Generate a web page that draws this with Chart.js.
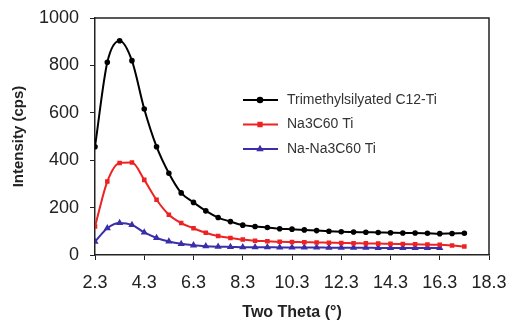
<!DOCTYPE html>
<html>
<head>
<meta charset="utf-8">
<script src="https://cdn.jsdelivr.net/npm/chart.js@4/dist/chart.umd.min.js"></script>
<style>
  html, body { margin: 0; padding: 0; background: #fff; }
  #wrap { width: 509px; height: 320px; }
</style>
</head>
<body>
<div id="wrap"><canvas id="myChart" width="509" height="320"></canvas></div>
<script>
const twoTheta = [2.3, 2.8, 3.3, 3.8, 4.3, 4.8, 5.3, 5.8, 6.3, 6.8, 7.3, 7.8, 8.3, 8.8, 9.3, 9.8,
  10.3, 10.8, 11.3, 11.8, 12.3, 12.8, 13.3, 13.8, 14.3, 14.8, 15.3, 15.8, 16.3, 16.8, 17.3]
const trimethyl = [457, 813, 904, 820, 616, 457, 345, 262, 222, 186, 158, 141, 126, 120, 116, 111,
  109, 106, 103, 100, 98, 97, 96, 95, 94, 93, 93, 92, 90, 91, 92]
const na3c60 = [120, 310, 388, 390, 317, 233, 170, 135, 113, 94, 80, 72, 65, 60, 58, 56,
  55, 54, 53, 52, 51, 50, 49, 48, 47, 46, 45, 44, 43, 40, 36]
const naNa3c60 = [56, 113, 135, 127, 95, 72, 57, 47, 41, 37, 35, 34, 33, 33, 33, 32,
  32, 32, 32, 31, 31, 31, 31, 30, 30, 30, 30, 30, 30]
const seriesNames = ["Trimethylsilyated C12-Ti", "Na3C60 Ti", "Na-Na3C60 Ti"]
const xTicks = [2.3, 4.3, 6.3, 8.3, 10.3, 12.3, 14.3, 16.3, 18.3]
const yTicks = [0, 200, 400, 600, 800, 1000]

function toPoints(vals) {
  return vals.map((v, i) => ({ x: twoTheta[i], y: v }))
}

// frame on top/right + legend inside the plot
const boxAndLegend = {
  id: "boxAndLegend",
  afterDraw(chart) {
    const ctx = chart.ctx
    const a = chart.chartArea
    ctx.save()
    ctx.strokeStyle = "#222"
    ctx.lineWidth = 1.5
    ctx.beginPath()
    ctx.moveTo(a.left, a.top)
    ctx.lineTo(a.right, a.top)
    ctx.lineTo(a.right, a.bottom)
    ctx.stroke()

    let y = 100
    chart.data.datasets.forEach((ds) => {
      ctx.strokeStyle = ds.borderColor
      ctx.lineWidth = 2
      ctx.beginPath()
      ctx.moveTo(243, y)
      ctx.lineTo(278, y)
      ctx.stroke()
      ctx.fillStyle = ds.borderColor
      Chart.helpers.drawPoint(ctx, { pointStyle: ds.pointStyle, radius: 2.3, borderWidth: 1 }, 260, y)
      ctx.fillStyle = "#333"
      ctx.font = "14px 'Liberation Sans', Arial, sans-serif"
      ctx.textBaseline = "middle"
      ctx.fillText(ds.label, 287, y)
      y += 24.5
    })
    ctx.restore()
  }
}

const data = {
  datasets: [
    {
      label: seriesNames[0],
      data: toPoints(trimethyl),
      borderColor: "#000",
      backgroundColor: "#000",
      borderWidth: 2,
      pointStyle: "circle",
      pointRadius: 1.8
    },
    {
      label: seriesNames[1],
      data: toPoints(na3c60),
      borderColor: "#ee2222",
      backgroundColor: "#ee2222",
      borderWidth: 2,
      pointStyle: "rect",
      pointRadius: 1.8
    },
    {
      label: seriesNames[2],
      data: toPoints(naNa3c60),
      borderColor: "#3a2fa8",
      backgroundColor: "#3a2fa8",
      borderWidth: 2,
      pointStyle: "triangle",
      pointRadius: 2.2
    }
  ]
}

const config = {
  type: "line",
  data,
  options: {
    responsive: false,
    animation: false,
    layout: { padding: { top: 18, right: 20, left: 0, bottom: 0 } },
    elements: { line: { cubicInterpolationMode: "monotone" } },
    plugins: { legend: { display: false }, tooltip: { enabled: false } },
    scales: {
      x: {
        type: "linear",
        min: 2.3,
        max: 18.3,
        afterBuildTicks: (s) => { s.ticks = xTicks.map(v => ({ value: v })) },
        afterFit: (s) => { s.height = 65; s.paddingLeft = 0; s.paddingRight = 0 },
        border: { color: "#222", width: 1.5 },
        grid: { drawOnChartArea: false, color: "#222", tickLength: 5 },
        ticks: {
          color: "#222",
          padding: 12,
          maxRotation: 0,
          font: { size: 18, family: "'Liberation Sans', Arial, sans-serif" },
          callback: (v) => v.toFixed(1)
        },
        title: {
          display: true,
          text: "Two Theta (°)",
          color: "#222",
          padding: { top: 0, bottom: -2 },
          font: { size: 16, weight: "bold", family: "'Liberation Sans', Arial, sans-serif" }
        }
      },
      y: {
        min: 0,
        max: 1000,
        afterBuildTicks: (s) => { s.ticks = yTicks.map(v => ({ value: v })) },
        afterFit: (s) => { s.width = 95; s.paddingTop = 0; s.paddingBottom = 0 },
        border: { color: "#222", width: 1.5 },
        grid: { drawOnChartArea: false, color: "#222", tickLength: 5 },
        ticks: {
          color: "#222",
          padding: 11,
          font: { size: 18, family: "'Liberation Sans', Arial, sans-serif" },
          callback: (v) => String(v)
        },
        title: {
          display: true,
          text: "Intensity (cps)",
          color: "#222",
          padding: { top: 10, bottom: 0 },
          font: { size: 15, weight: "bold", family: "'Liberation Sans', Arial, sans-serif" }
        }
      }
    }
  },
  plugins: [boxAndLegend]
}

new Chart(document.getElementById("myChart").getContext("2d"), config)
</script>
</body>
</html>
